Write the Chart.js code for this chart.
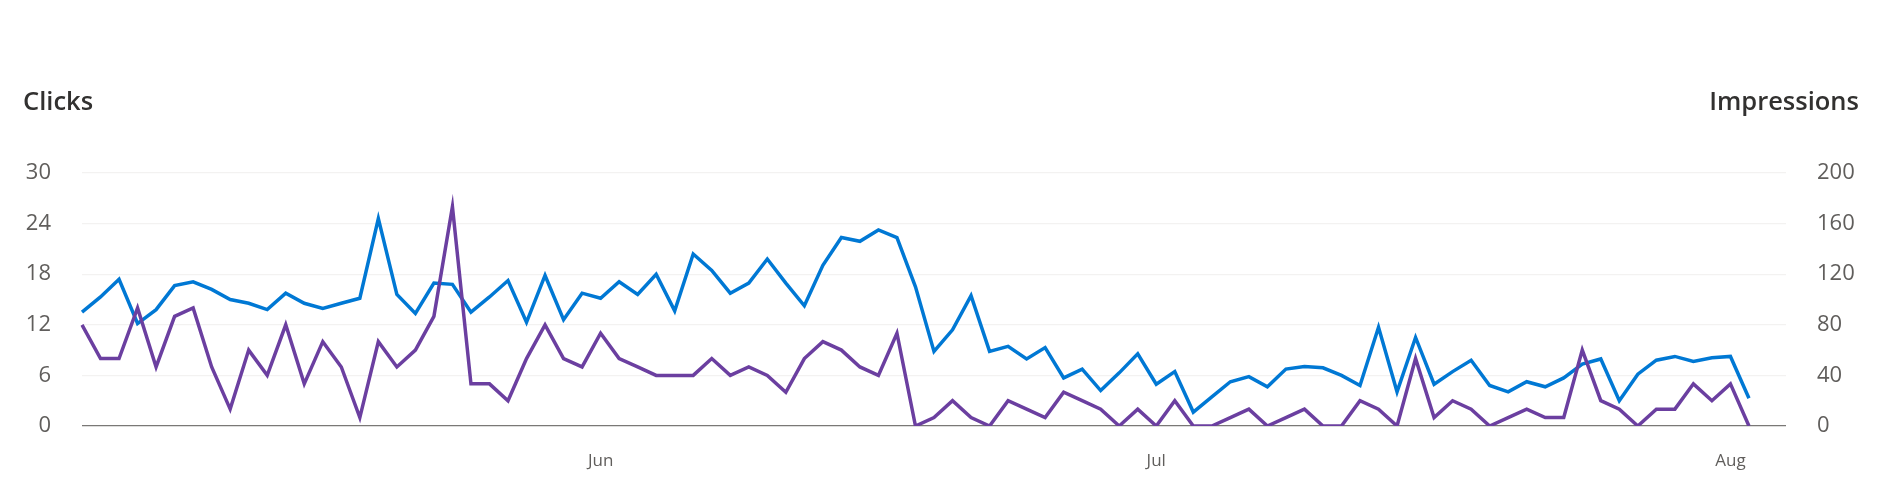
<!DOCTYPE html>
<html>
<head>
<meta charset="utf-8">
<script src="https://cdn.jsdelivr.net/npm/chart.js@4.4.1/dist/chart.umd.min.js"></script>
<style>
  html, body { margin: 0; padding: 0; background: #ffffff; }
  #wrap { position: relative; width: 1899px; height: 488px; }
  canvas { position: absolute; left: 0; top: 0; }
  .ttl { position: absolute; top: 84px; font-family: "Open Sans", sans-serif; font-weight: 600; font-size: 25.5px; color: #323130; line-height: 32px; white-space: nowrap; }
  #tl { left: 23px; }
  #tr { right: 40px; }
</style>
</head>
<body>
<div id="wrap">
  <canvas id="c" width="1899" height="488"></canvas>
  <div class="ttl" id="tl">Clicks</div>
  <div class="ttl" id="tr">Impressions</div>
</div>
<script>
const dates = [
  "May 4","May 5","May 6","May 7","May 8","May 9","May 10","May 11","May 12","May 13","May 14","May 15","May 16","May 17",
  "May 18","May 19","May 20","May 21","May 22","May 23","May 24","May 25","May 26","May 27","May 28","May 29","May 30","May 31",
  "Jun 1","Jun 2","Jun 3","Jun 4","Jun 5","Jun 6","Jun 7","Jun 8","Jun 9","Jun 10","Jun 11","Jun 12","Jun 13","Jun 14","Jun 15",
  "Jun 16","Jun 17","Jun 18","Jun 19","Jun 20","Jun 21","Jun 22","Jun 23","Jun 24","Jun 25","Jun 26","Jun 27","Jun 28","Jun 29","Jun 30",
  "Jul 1","Jul 2","Jul 3","Jul 4","Jul 5","Jul 6","Jul 7","Jul 8","Jul 9","Jul 10","Jul 11","Jul 12","Jul 13","Jul 14","Jul 15","Jul 16",
  "Jul 17","Jul 18","Jul 19","Jul 20","Jul 21","Jul 22","Jul 23","Jul 24","Jul 25","Jul 26","Jul 27","Jul 28","Jul 29","Jul 30","Jul 31",
  "Aug 1","Aug 2","Aug 3","Aug 4"
];

const clicks = [
  12,8,8,14,7,13,14,7,2,9,
  6,12,5,10,7,1,10,7,9,13,
  26,5,5,3,8,12,8,7,11,8,
  7,6,6,6,8,6,7,6,4,8,
  10,9,7,6,11,0,1,3,1,0,
  3,2,1,4,3,2,0,2,0,3,
  0,0,1,2,0,1,2,0,0,3,
  2,0,8,1,3,2,0,1,2,1,
  1,9,3,2,0,2,2,5,3,5,
  0
];

const impressions = [
  90,102,116,81,92,111,114,108,100,97,
  92,105,97,93,97,101,164,104,89,113,
  112,90,102,115,82,119,84,105,101,114,
  104,120,91,136,123,105,113,132,113,95,
  127,149,146,155,149,110,59,76,103,59,
  63,53,62,38,45,28,42,57,33,43,
  11,23,35,39,31,45,47,46,40,32,
  78,27,70,33,43,52,32,27,35,31,
  38,49,53,20,41,52,55,51,54,55,
  22
];

const clickTicks = [0, 6, 12, 18, 24, 30];
const impressionTicks = [0, 40, 80, 120, 160, 200];

const tickFont = { family: "Open Sans", size: 22 };
const tickColor = "#605e5c";

new Chart(document.getElementById("c"), {
  type: "line",
  data: {
    labels: dates,
    datasets: [
      {
        label: "Clicks",
        data: clicks,
        yAxisID: "yL",
        borderColor: "#6b3fa0",
        borderWidth: 3.5,
        pointRadius: 0,
        tension: 0,
        fill: false
      },
      {
        label: "Impressions",
        data: impressions,
        yAxisID: "yR",
        borderColor: "#0078d4",
        borderWidth: 3.5,
        pointRadius: 0,
        tension: 0,
        fill: false
      }
    ]
  },
  options: {
    responsive: false,
    animation: false,
    layout: { padding: { top: 173, bottom: 0, left: 0, right: 0 } },
    plugins: { legend: { display: false }, tooltip: { enabled: false } },
    scales: {
      x: {
        type: "category",
        offset: false,
        grid: { display: false },
        border: { display: false },
        ticks: {
          autoSkip: false,
          maxRotation: 0,
          minRotation: 0,
          padding: 17,
          color: tickColor,
          font: { family: "Open Sans", size: 17 },
          callback: function (val) {
            const l = this.getLabelForValue(val);
            const parts = l.split(" ");
            return parts[1] === "1" ? parts[0] : "";
          }
        },
        afterFit: (s) => { s.height = 62; }
      },
      yL: {
        position: "left",
        min: 0,
        max: 30,
        afterBuildTicks: (s) => { s.ticks = clickTicks.map(v => ({ value: v })); },
        grid: {
          drawTicks: false,
          color: (ctx) => (ctx.tick && ctx.tick.value === 0 ? "#7a7876" : "#f3f2f1"),
          lineWidth: 1.2
        },
        border: { display: false },
        ticks: { padding: 31, color: tickColor, font: tickFont },
        afterFit: (s) => { s.width = 82; }
      },
      yR: {
        position: "right",
        min: 0,
        max: 200,
        afterBuildTicks: (s) => { s.ticks = impressionTicks.map(v => ({ value: v })); },
        grid: { drawOnChartArea: false, drawTicks: false },
        border: { display: false },
        ticks: { padding: 31, color: tickColor, font: tickFont },
        afterFit: (s) => { s.width = 113; }
      }
    }
  }
});
</script>
</body>
</html>
